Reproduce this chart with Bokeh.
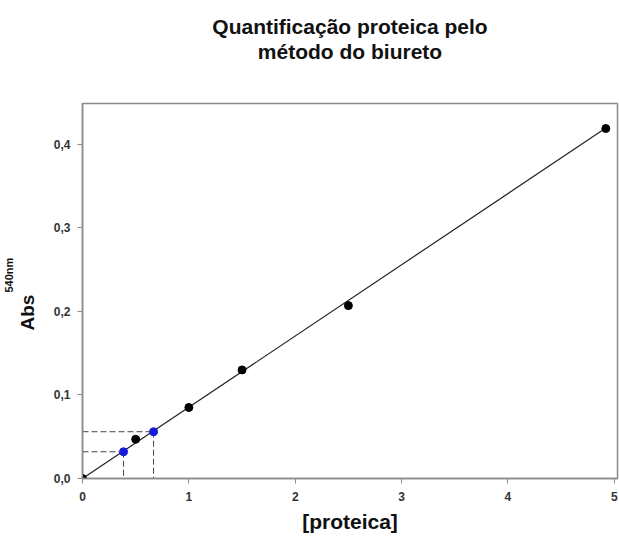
from bokeh.plotting import figure
from bokeh.models import Title, FixedTicker, CustomJSTickFormatter, Range1d
from bokeh.embed import file_html
from bokeh.resources import INLINE

# Standard curve data
conc = [0.0, 0.5, 1.0, 1.5, 2.5, 4.92]
absorb = [0.0, 0.047, 0.085, 0.130, 0.207, 0.419]

# Unknown samples (blue)
sample_conc = [0.386, 0.668]
sample_abs = [0.032, 0.056]

# Linear fit
slope = 0.0853
intercept = 0.0
fit_x = [0.0, 4.92]

x_ticks = [0, 1, 2, 3, 4, 5]
y_ticks = [0.0, 0.1, 0.2, 0.3, 0.4]

p = figure(width=619, height=541, output_backend="svg", toolbar_location=None,
           x_range=Range1d(0, 5.03), y_range=Range1d(0, 0.449),
           min_border_left=82, min_border_right=2, min_border_top=103, min_border_bottom=63)
p.background_fill_color = "white"
p.border_fill_color = "white"
p.grid.visible = False
p.outline_line_color = "#8a8a8a"
p.outline_line_width = 1.5

for ax in (p.xaxis[0], p.yaxis[0]):
    ax.axis_line_color = "#8a8a8a"
    ax.axis_line_width = 1.5
    ax.major_tick_line_color = "#8a8a8a"
    ax.major_tick_out = 5
    ax.major_tick_in = 0
    ax.minor_tick_line_color = None
    ax.major_label_text_font = "Liberation Sans"
    ax.major_label_text_font_size = "12px"
    ax.major_label_text_color = "#333333"
    ax.major_label_text_font_style = "bold"

p.xaxis.ticker = FixedTicker(ticks=x_ticks)
p.yaxis.ticker = FixedTicker(ticks=y_ticks)
p.yaxis.formatter = CustomJSTickFormatter(code="return tick.toFixed(1).replace('.', ',');")
p.xaxis.formatter = CustomJSTickFormatter(code="return tick.toFixed(0);")
p.xaxis.major_label_standoff = 8
p.yaxis.major_label_standoff = 7

p.xaxis.axis_label = "[proteica]"
p.xaxis.axis_label_text_font = "Liberation Sans"
p.xaxis.axis_label_text_font_size = "21px"
p.xaxis.axis_label_text_font_style = "bold"
p.xaxis.axis_label_text_color = "#111111"
p.xaxis.axis_label_standoff = 6

# Fit line
p.line(fit_x, [slope * x + intercept for x in fit_x], line_color="#222222", line_width=1.2)

# Dashed guide lines for samples
p.segment(x0=[0] * len(sample_conc), y0=sample_abs, x1=sample_conc, y1=sample_abs,
          line_color="#444444", line_dash="6 3", line_width=1)
p.segment(x0=sample_conc, y0=sample_abs, x1=sample_conc, y1=[0] * len(sample_conc),
          line_color="#444444", line_dash="6 3", line_width=1)

# Points
p.scatter(conc, absorb, size=8, color="black")
p.scatter(sample_conc, sample_abs, size=8, color="#1a1adb")

TF = "Liberation Sans"

# Title (two lines): spacer, second line, then first line (outermost)
p.add_layout(Title(text=" ", text_font_size="1px", standoff=38), "above")
p.add_layout(Title(text="método do biureto", align="center", text_font=TF,
                   text_font_size="21px", text_font_style="bold",
                   text_color="#111111", standoff=0), "above")
p.title.text = "Quantificação proteica pelo"
p.title.align = "center"
p.title.text_font = TF
p.title.text_font_size = "21px"
p.title.text_font_style = "bold"
p.title.text_color = "#111111"
p.title.standoff = 0

# Y axis label "Abs" with superscript "540nm" (spacer first, next to the axis)
p.add_layout(Title(text=" ", text_font_size="1px", standoff=10), "left")
p.add_layout(Title(text="Abs", align="left", offset=148, vertical_align="bottom",
                   text_font=TF, text_font_size="19px",
                   text_font_style="bold", text_color="#111111", standoff=0), "left")
p.add_layout(Title(text="540nm", align="left", offset=186, vertical_align="bottom",
                   text_font=TF, text_font_size="11px",
                   text_font_style="bold", text_color="#111111", standoff=0), "left")

open("out.html", "w").write(file_html(p, INLINE))
